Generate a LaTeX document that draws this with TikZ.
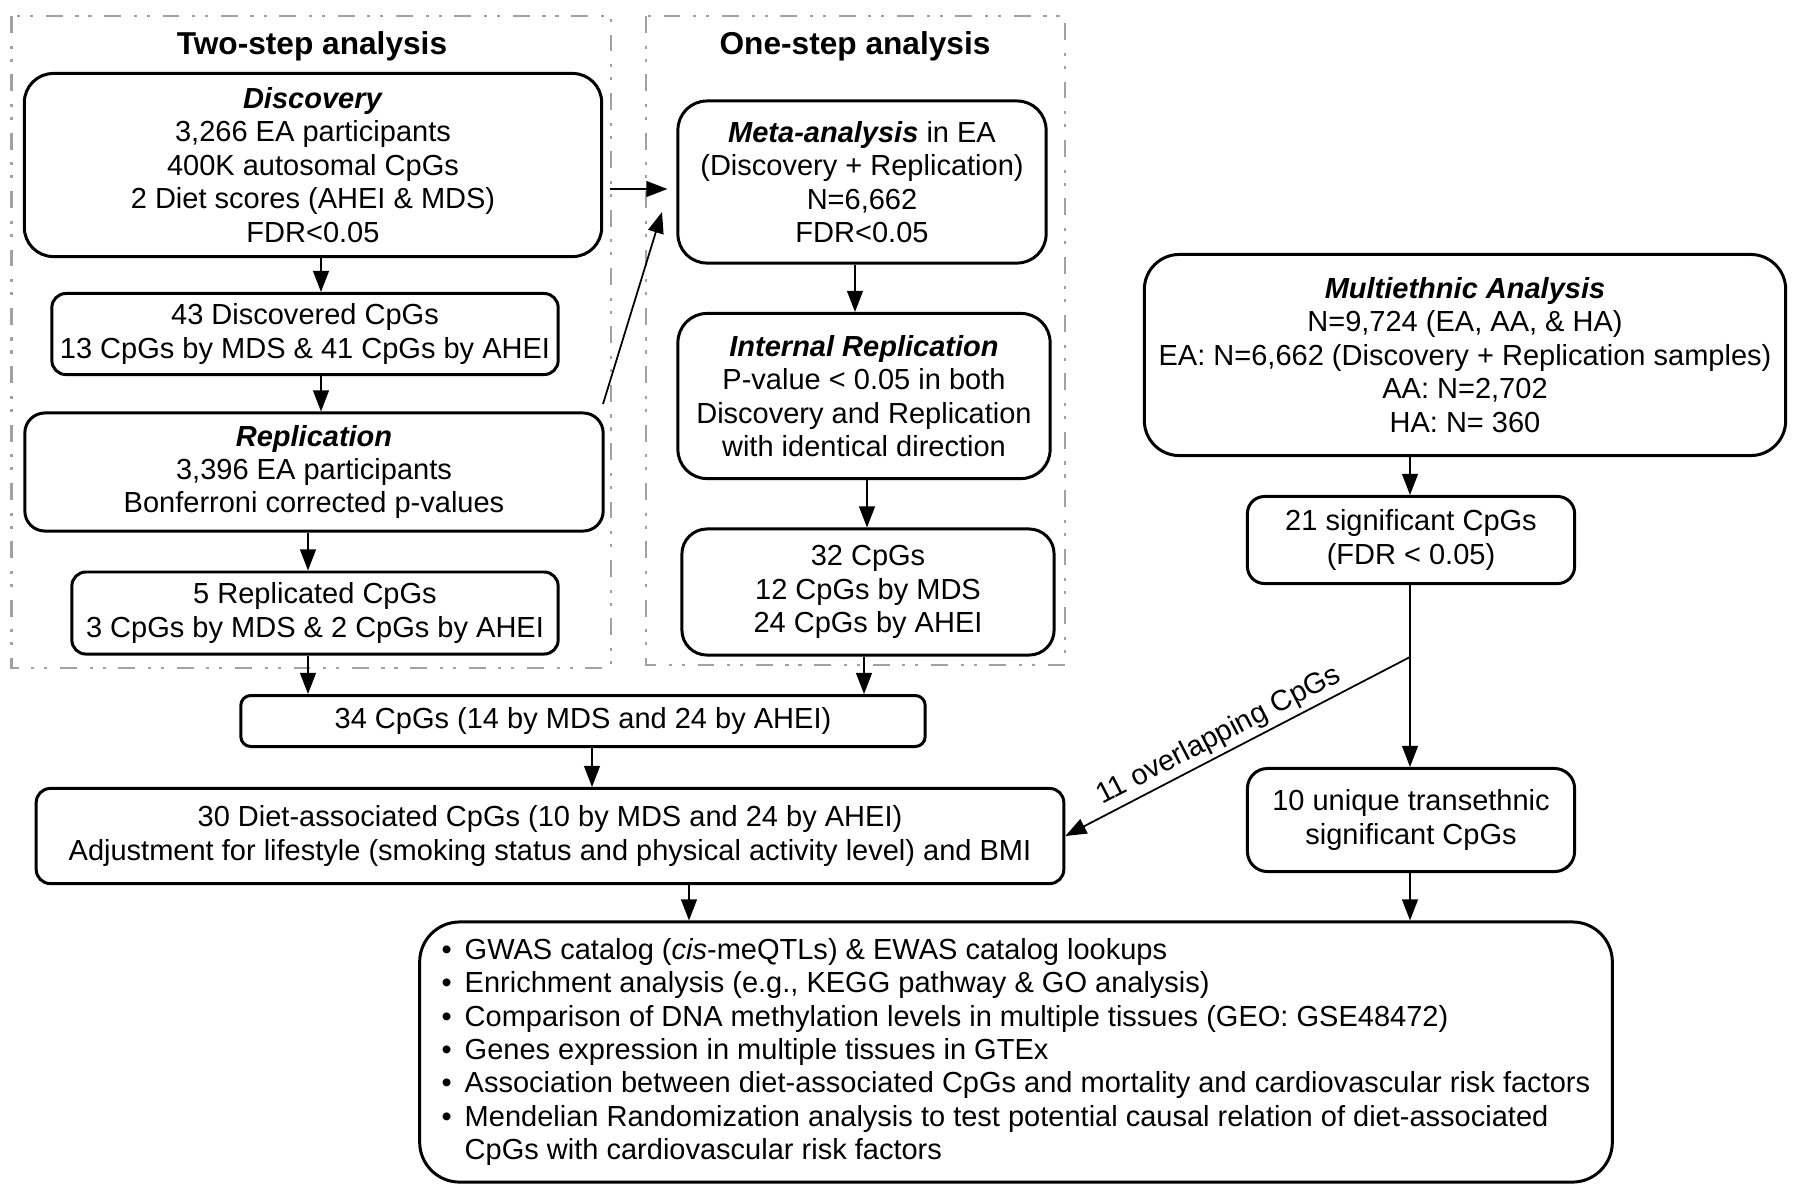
\documentclass[tikz,border=0pt]{standalone}
\usepackage{fontspec}
\setmainfont{Liberation Sans}
\usetikzlibrary{arrows.meta}
\newcommand\bul{\makebox[0.23cm][l]{\textbullet}}
\newcommand\nobul{\makebox[0.23cm][l]{}}
\begin{document}
\begin{tikzpicture}[x=0.01cm,y=-0.01cm,
  box/.style={draw, line width=0.85pt, rounded corners=#1, align=center, inner sep=0pt,
    font=\fontsize{8.25}{9.5}\selectfont},
  box/.default=0.2cm,
  ttl/.style={font=\fontsize{9}{11}\selectfont\bfseries, inner sep=0pt},
  frame/.style={draw=black!37, line width=0.8pt, dash pattern=on 4.8pt off 3.6pt on 0.9pt off 2.8pt on 0.9pt off 3.6pt},
  arr/.style={-{Triangle[length=6pt,width=4.5pt]}, line width=0.5pt},
  lbl/.style={font=\fontsize{8.25}{9.5}\selectfont, inner sep=1pt}
]
\useasboundingbox (0,0) rectangle (1800,1196);

% frames
\draw[frame] (11.5,16) rectangle (611,668);
\draw[frame] (646,16) rectangle (1065,665);
\node[ttl] (t1) at (312,46) {Two-step analysis};
\node[ttl] (t2) at (855,46) {One-step analysis};

% nodes
\node[box=0.29cm, minimum width=5.77cm, minimum height=1.83cm] (disc) at (313,165)
  {\textbf{\textit{Discovery}}\\3,266 EA participants\\400K autosomal CpGs\\2 Diet scores (AHEI \& MDS)\\FDR<0.05};
\node[box=0.14cm, minimum width=5.06cm, minimum height=0.81cm] (d43) at (305,334)
  {43 Discovered CpGs\\13 CpGs by MDS \& 41 CpGs by AHEI};
\node[box=0.2cm, minimum width=5.78cm, minimum height=1.18cm] (rep) at (314,472)
  {\textbf{\textit{Replication}}\\3,396 EA participants\\Bonferroni corrected p-values};
\node[box=0.14cm, minimum width=4.86cm, minimum height=0.82cm] (r5) at (315,613)
  {5 Replicated CpGs\\3 CpGs by MDS \& 2 CpGs by AHEI};
\node[box=0.29cm, minimum width=3.68cm, minimum height=1.62cm] (meta) at (862,182)
  {\textbf{\textit{Meta-analysis}} in EA\\(Discovery + Replication)\\N=6,662\\FDR<0.05};
\node[box=0.29cm, minimum width=3.72cm, minimum height=1.65cm] (intr) at (864,396)
  {\textbf{\textit{Internal Replication}}\\P-value < 0.05 in both\\Discovery and Replication\\with identical direction};
\node[box=0.25cm, minimum width=3.72cm, minimum height=1.26cm] (c32) at (868,592)
  {32 CpGs\\12 CpGs by MDS\\24 CpGs by AHEI};
\node[box=0.35cm, minimum width=6.41cm, minimum height=2.01cm] (multi) at (1465,355)
  {\textbf{\textit{Multiethnic Analysis}}\\N=9,724 (EA, AA, \& HA)\\EA: N=6,662 (Discovery + Replication samples)\\AA: N=2,702\\HA: N= 360};
\node[box=0.17cm, minimum width=3.27cm, minimum height=0.87cm] (s21) at (1411,540)
  {21 significant CpGs\\(FDR < 0.05)};
\node[box=0.1cm, minimum width=6.84cm, minimum height=0.51cm] (c34) at (583,721)
  {34 CpGs (14 by MDS and 24 by AHEI)};
\node[box=0.14cm, minimum width=10.27cm, minimum height=0.95cm] (diet) at (550,836)
  {30 Diet-associated CpGs (10 by MDS and 24 by AHEI)\\Adjustment for lifestyle (smoking status and physical activity level) and BMI};
\node[box=0.2cm, minimum width=3.27cm, minimum height=1.03cm] (u10) at (1411,820)
  {10 unique transethnic\\significant CpGs};
\node[box=0.4cm, minimum width=11.92cm, minimum height=2.60cm, align=left] (out) at (1016,1052)
  {\bul GWAS catalog (\textit{cis}-meQTLs) \& EWAS catalog lookups\\
   \bul Enrichment analysis (e.g., KEGG pathway \& GO analysis)\\
   \bul Comparison of DNA methylation levels in multiple tissues (GEO: GSE48472)\\
   \bul Genes expression in multiple tissues in GTEx\\
   \bul Association between diet-associated CpGs and mortality and cardiovascular risk factors\\
   \bul Mendelian Randomization analysis to test potential causal relation of diet-associated\\
   \nobul CpGs with cardiovascular risk factors};

% x positions of vertical connectors
\coordinate (xa) at (321,0);
\coordinate (xb) at (308,0);
\coordinate (xc) at (855,0);
\coordinate (xd) at (867,0);
\coordinate (xe) at (864,0);
\coordinate (xf) at (592,0);
\coordinate (xg) at (1410,0);
\coordinate (xh) at (689,0);
\coordinate (split) at (1410,657);
\coordinate (h1) at (610,189);
\coordinate (dg1) at (603,404);
\coordinate (dg2) at (662,212);

% connectors
\draw[arr] (disc.south -| xa) -- (d43.north -| xa);
\draw[arr] (d43.south -| xa) -- (rep.north -| xa);
\draw[arr] (rep.south -| xb) -- (r5.north -| xb);
\draw[arr] (r5.south -| xb) -- (c34.north -| xb);
\draw[arr] (meta.south -| xc) -- (intr.north -| xc);
\draw[arr] (intr.south -| xd) -- (c32.north -| xd);
\draw[arr] (c32.south -| xe) -- (c34.north -| xe);
\draw[arr] (c34.south -| xf) -- (diet.north -| xf);
\draw[arr] (diet.south -| xh) -- (out.north -| xh);
\draw[arr] (multi.south -| xg) -- (s21.north -| xg);
\draw[line width=0.5pt] (s21.south -| xg) -- (split);
\draw[arr] (split) -- (u10.north -| xg);
\draw[arr] (u10.south -| xg) -- (out.north -| xg);
\draw[arr] (split) -- node[lbl, sloped, above, pos=0.53] {11 overlapping CpGs} (diet.east);
\draw[arr, shorten >=0.09cm] (h1) -- (meta.west |- h1);
\draw[arr] (dg1) -- (dg2);
\end{tikzpicture}
\end{document}
